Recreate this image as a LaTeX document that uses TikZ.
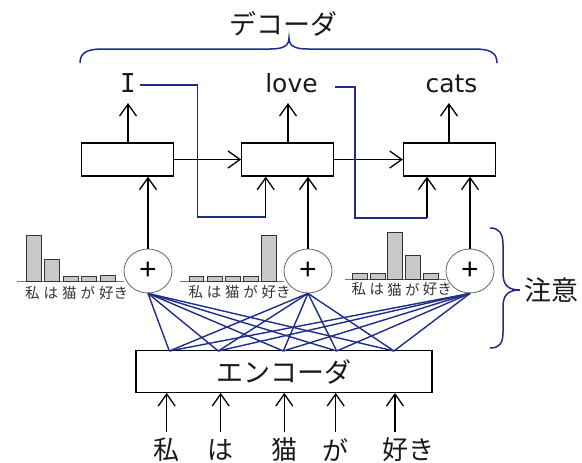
\documentclass[tikz,border=0pt]{standalone}
\usepackage{fontspec}
\setmainfont{DejaVu Sans}
\newfontfamily\jp{Noto Sans CJK JP}
\newfontfamily\monoI{DejaVu Sans Mono}
\newfontfamily\plusfont{Liberation Sans}
\usetikzlibrary{arrows.meta,shapes.geometric}
\definecolor{attblue}{RGB}{30,45,135}
\definecolor{baseblue}{RGB}{95,115,200}
\definecolor{barfill}{RGB}{200,200,200}
\definecolor{txt}{RGB}{25,25,25}
\tikzset{
  boxn/.style={draw=black,line width=1.3pt,minimum width=92pt,minimum height=33pt,inner sep=0pt},
  encbox/.style={draw=black,line width=1.3pt,minimum width=296pt,minimum height=41.6pt,inner sep=0pt,font=\jp\fontsize{27}{30}\selectfont,text=txt},
  arr/.style={line width=1.3pt,-{Straight Barb[length=12pt,width=17pt]}},
  att/.style={draw=attblue,line width=1.4pt},
  plusc/.style={ellipse,draw=black!60,line width=0.8pt,minimum width=48pt,minimum height=44pt,inner sep=0pt,font=\plusfont\fontsize{30}{30}\selectfont},
  bar/.style={draw=black!80,line width=1pt,fill=barfill},
  baseln/.style={draw=baseblue,line width=1pt},
  smalllab/.style={font=\jp\fontsize{14.5}{15}\selectfont,text=black!80,inner sep=0pt,anchor=west},
  biglab/.style={font=\jp\fontsize{26}{28}\selectfont,text=txt,inner sep=0pt},
  outword/.style={font=\fontsize{25}{28}\selectfont,text=txt,inner sep=0pt,anchor=base},
  bracep/.style={draw=attblue,line width=1.5pt},
}
\begin{document}
\begin{tikzpicture}[x=1pt,y=-1pt]
\useasboundingbox (0,0) rectangle (582,463);

% decoder boxes
\node[boxn] (b1) at (127.5,159.5) {};
\node[boxn] (b2) at (287.8,159.5) {};
\node[boxn] (b3) at (449.5,159.5) {};

% output words
\node[outword,font=\monoI\fontsize{26}{28}\selectfont] (o1) at (128,92) {I};
\node[outword] (o2) at (291.5,92) {love};
\node[outword] (o3) at (451.5,92) {cats};

\coordinate (a1) at (128,143);\coordinate (a1t) at (128,103);
\coordinate (a2) at (288,143);\coordinate (a2t) at (288,103);
\coordinate (a3) at (449,143);\coordinate (a3t) at (449,103);
\draw[arr] (a1) -- (a1t);
\draw[arr] (a2) -- (a2t);
\draw[arr] (a3) -- (a3t);

% horizontal arrows
\draw[arr] (b1.east) -- (b2.west);
\draw[arr] (b2.east) -- (b3.west);

% plus circles
\node[plusc] (c1) at (148,271) {+};
\node[plusc] (c2) at (308,271) {+};
\node[plusc] (c3) at (470,271) {+};

\draw[arr] (c1.north) -- (c1.north |- b1.south);
\draw[arr] (c2.north) -- (c2.north |- b2.south);
\draw[arr] (c3.north) -- (c3.north |- b3.south);

% feedback lines
\coordinate (s1) at (140,85); \coordinate (m1) at (197.7,85); \coordinate (t1) at (265.7,217);
\coordinate (s2) at (335,87); \coordinate (m2) at (355,87); \coordinate (t2) at (427,218);
\draw[att] (s1) -- (m1) |- (t1);
\draw[att] (s2) -- (m2) |- (t2);
\draw[arr] (t1) -- (t1 |- b2.south);
\draw[arr] (t2) -- (t2 |- b3.south);

% encoder
\node[encbox] (enc) at (283.9,371.5) {エンコーダ};
\foreach \x [count=\i] in {169.3,218.3,283.3,336.7,394}
  \coordinate (e\i) at (\x,351);
\foreach \c in {c1,c2,c3}
  \foreach \i in {1,...,5}
    \draw[att] (\c.south) -- (e\i);

% inputs
\foreach \x/\w [count=\i] in {166.7/私,220.7/は,284.3/猫,335.7/が}{
  \node[biglab] (in\i) at (\x,449.5) {\w};
  \coordinate (ia\i) at (\x,432);
  \draw[arr] (ia\i) -- (ia\i |- enc.south);
}
\node[biglab,anchor=west] (in5) at (382,449.5) {好き};
\coordinate (ia5) at (395,432);
\draw[arr] (ia5) -- (ia5 |- enc.south);

% bar charts
\draw[baseln] (17,281.7) -- (124,281.7);
\foreach \h [count=\i from 0] in {46.7,22.7,5.7,5.7,6.4}
  \draw[bar] ({26+18.5*\i},281.7) rectangle ++(15,-\h);
\draw[baseln] (180,281.7) -- (284,281.7);
\foreach \h [count=\i from 0] in {5.7,5.7,5.7,5.7,46.7}
  \draw[bar] ({189+18.2*\i},281.7) rectangle ++(14.8,-\h);
\draw[baseln] (345,279.3) -- (446,279.3);
\foreach \h [count=\i from 0] in {6,6,47,23.6,6}
  \draw[bar] ({352.3+17.8*\i},279.3) rectangle ++(15,-\h);

\foreach \w [count=\i from 0] in {私,は,猫,が,好き}{
  \node[smalllab] (la\i) at ({25+18.5*\i},293) {\w};
  \node[smalllab] (lb\i) at ({188.5+18.2*\i},292) {\w};
  \node[smalllab] (lc\i) at ({351.5+17.8*\i},289.5) {\w};
}

% top brace
\draw[bracep] (80,63) .. controls (80,52) and (88,49) .. (103,49) -- (270,49)
  .. controls (283,49) and (289,46) .. (289,38)
  .. controls (289,46) and (295,49) .. (308,49) -- (474,49)
  .. controls (489,49) and (497,52) .. (497,63);
\node[biglab,font=\jp\fontsize{27}{30}\selectfont] (dec) at (283,24) {デコーダ};

% right brace
\draw[bracep] (490,228) .. controls (499,228) and (503,233) .. (503,245) -- (503,273)
  .. controls (503,285) and (508,290) .. (520,290)
  .. controls (508,290) and (503,295) .. (503,307) -- (503,332)
  .. controls (503,344) and (499,348) .. (490,348);
\node[biglab,font=\jp\fontsize{27}{30}\selectfont] (att) at (551.5,290) {注意};
\end{tikzpicture}
\end{document}
